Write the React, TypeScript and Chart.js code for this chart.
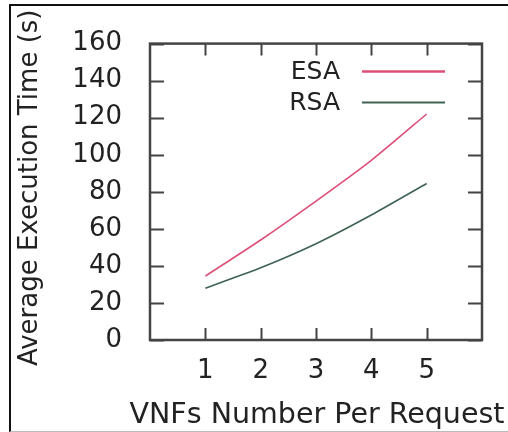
import React, { useEffect, useRef } from "react";
import { Chart, registerables } from "chart.js";

Chart.register(...registerables);

const categories = [1, 2, 3, 4, 5];
const esaValues = [34.5, 54, 75, 97, 122];
const rsaValues = [28, 39, 52, 67.5, 84.5];
const yTickValues = [0, 20, 40, 60, 80, 100, 120, 140, 160];
const seriesLabels = ["ESA", "RSA"];
const xTitle = "VNFs Number Per Request";
const yTitle = "Average Execution Time (s)";

const FONT = "'DejaVu Sans', sans-serif";
const TEXT = "#222";

const framePlugin = {
  id: "gnuplotFrame",
  afterDatasetsDraw(chart: any) {
    const { ctx, chartArea, scales } = chart;
    const { left, right, top, bottom } = chartArea;
    ctx.save();
    ctx.strokeStyle = "#444";
    ctx.lineWidth = 2;
    // inward ticks
    const yLen = 14;
    const xLen = 12;
    ctx.beginPath();
    yTickValues.forEach((v) => {
      const py = Math.round(scales.y.getPixelForValue(v)) + 0.5;
      ctx.moveTo(left, py);
      ctx.lineTo(left + yLen, py);
      ctx.moveTo(right, py);
      ctx.lineTo(right - yLen, py);
    });
    categories.forEach((v) => {
      const px = Math.round(scales.x.getPixelForValue(v)) + 0.5;
      ctx.moveTo(px, bottom);
      ctx.lineTo(px, bottom - xLen);
      ctx.moveTo(px, top);
      ctx.lineTo(px, top + xLen);
    });
    ctx.stroke();
    ctx.lineWidth = 2.5;
    ctx.strokeRect(left, top, right - left, bottom - top);

    // legend inside plot
    ctx.font = `25px ${FONT}`;
    ctx.textAlign = "right";
    ctx.textBaseline = "middle";
    chart.data.datasets.forEach((ds: any, i: number) => {
      const cy = top + 28 + i * 31;
      ctx.fillStyle = TEXT;
      ctx.fillText(ds.label, right - 142, cy + 1);
      ctx.strokeStyle = ds.borderColor;
      ctx.lineWidth = i === 0 ? 2.5 : 2;
      ctx.beginPath();
      ctx.moveTo(right - 120, cy);
      ctx.lineTo(right - 37, cy);
      ctx.stroke();
    });

    // axis titles
    ctx.fillStyle = TEXT;
    ctx.textAlign = "center";
    ctx.textBaseline = "alphabetic";
    ctx.font = `28.5px ${FONT}`;
    ctx.fillText(xTitle, (left + right) / 2 + 1, bottom + 83);

    ctx.translate(37, (top + bottom) / 2 - 4);
    ctx.rotate(-Math.PI / 2);
    ctx.font = `26px ${FONT}`;
    ctx.fillText(yTitle, 0, 0);
    ctx.restore();
  },
};

export default function App() {
  const canvasRef = useRef<HTMLCanvasElement | null>(null);

  useEffect(() => {
    const canvas = canvasRef.current;
    if (!canvas) return;
    const chart = new Chart(canvas, {
      type: "line",
      data: {
        datasets: [
          {
            label: seriesLabels[0],
            data: categories.map((c, i) => ({ x: c, y: esaValues[i] })),
            borderColor: "#dc5078",
            borderWidth: 1.6,
            pointRadius: 0,
            tension: 0.2,
            fill: false,
          },
          {
            label: seriesLabels[1],
            data: categories.map((c, i) => ({ x: c, y: rsaValues[i] })),
            borderColor: "#3f6353",
            borderWidth: 1.6,
            pointRadius: 0,
            tension: 0.2,
            fill: false,
          },
        ],
      },
      options: {
        animation: false,
        responsive: false,
        devicePixelRatio: 1,
        layout: { padding: { left: 0, right: 26, top: 39, bottom: 0 } },
        plugins: {
          legend: { display: false },
          tooltip: { enabled: false },
        },
        scales: {
          x: {
            type: "linear",
            min: 0,
            max: 6,
            grid: { display: false, drawTicks: false },
            border: { display: false },
            afterBuildTicks: (scale: any) => {
              scale.ticks = categories.map((v) => ({ value: v }));
            },
            afterFit: (scale: any) => {
              scale.height = 92;
            },
            ticks: {
              color: TEXT,
              font: { family: FONT, size: 26 },
              padding: 16,
              maxRotation: 0,
              autoSkip: false,
            },
            title: { display: false },
          },
          y: {
            type: "linear",
            min: 0,
            max: 160,
            grid: { display: false, drawTicks: false },
            border: { display: false },
            afterBuildTicks: (scale: any) => {
              scale.ticks = yTickValues.map((v) => ({ value: v }));
            },
            afterFit: (scale: any) => {
              scale.width = 150;
            },
            ticks: {
              color: TEXT,
              font: { family: FONT, size: 26 },
              padding: 28,
            },
            title: { display: false },
          },
        },
      },
      plugins: [framePlugin],
    });
    return () => chart.destroy();
  }, []);

  return (
    <div
      style={{
        position: "fixed",
        left: 0,
        top: 0,
        width: 508,
        height: 432,
        overflow: "hidden",
        background: "#fff",
      }}
    >
      <canvas
        ref={canvasRef}
        width={508}
        height={432}
        style={{ position: "absolute", left: 0, top: 0 }}
      />
      <div
        style={{
          position: "absolute",
          left: 9,
          top: 4,
          width: 600,
          height: 425,
          borderLeft: "2px solid #111",
          borderTop: "2px solid #111",
          borderBottom: "1px solid #bbb",
          pointerEvents: "none",
        }}
      />
    </div>
  );
}
